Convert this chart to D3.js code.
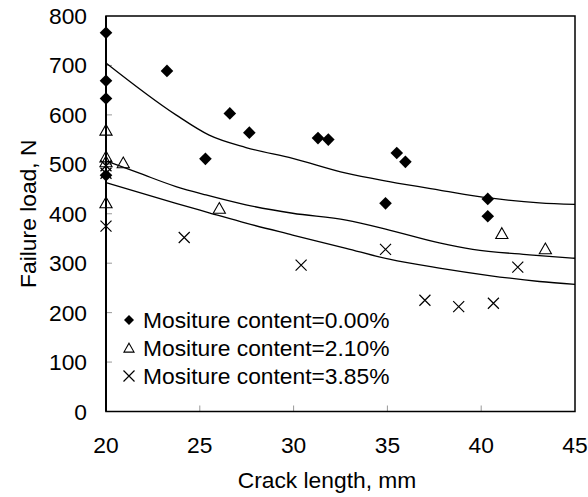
<!DOCTYPE html>
<html>
<head>
<meta charset="utf-8">
<script src="https://cdn.jsdelivr.net/npm/d3@7"></script>
<style>
  html, body { margin: 0; padding: 0; background: #fff; }
  svg { display: block; font-family: "Liberation Sans", Arial, sans-serif; }
</style>
</head>
<body>
<svg id="chart" width="588" height="497"></svg>
<script>
// ---- data ----
const xTicks = [20, 25, 30, 35, 40, 45];
const yTicks = [0, 100, 200, 300, 400, 500, 600, 700, 800];
const seriesNames = ["Mositure content=0.00%", "Mositure content=2.10%", "Mositure content=3.85%"];

// Moisture content 0.00% (filled diamonds)
const mc000X = [20, 20, 20, 20, 23.25, 25.3, 26.6, 27.64, 31.3, 31.85, 34.9, 35.5, 35.96, 40.35, 40.35];
const mc000Y = [766, 669, 633, 478, 689, 511, 603, 564, 553, 550, 421, 523, 505, 430, 395];

// Moisture content 2.10% (open triangles)
const mc210X = [20, 20, 20, 20, 20.92, 26.04, 41.1, 43.42];
const mc210Y = [569, 515, 505, 422, 503, 411, 360, 329];

// Moisture content 3.85% (crosses)
const mc385X = [20, 20, 20, 24.17, 30.4, 34.9, 37.0, 38.8, 40.65, 41.95];
const mc385Y = [375, 497, 482, 352, 296, 328, 225, 212, 219, 292];

// Model curves
const fit000X = [20, 23.73, 25.5, 27.46, 29.95, 32.8, 35.1, 37.77, 40.43, 43.1, 45];
const fit000Y = [705, 600, 559, 534, 512, 482, 465, 448, 432, 422, 419];
const fit210X = [20, 21.78, 23.73, 25.33, 27.46, 29.95, 32.8, 35.1, 37.77, 39.55, 42.57, 45];
const fit210Y = [507, 482, 455, 438, 418, 401, 387, 367, 341, 328, 317, 310];
const fit385X = [20, 23.73, 25.5, 27.46, 29.95, 32.8, 35.1, 37.77, 40.43, 43.1, 45];
const fit385Y = [463, 421, 402, 381, 357, 330, 308, 290, 275, 263, 257];

// ---- layout ----
const svg = d3.select("#chart");
const mLeft = 106, mRight = 575, mTop = 16, mBottom = 411.5;
const x = d3.scaleLinear().domain([20, 45]).range([mLeft, mRight]);
const y = d3.scaleLinear().domain([0, 800]).range([mBottom, mTop]);
const fontSize = 22.8;

// ticks (inside, grey)
const g = svg.append("g");
g.selectAll("line.yt").data(yTicks.filter(d => d > 0 && d < 800)).enter()
  .append("line").attr("x1", mLeft).attr("x2", mLeft + 6)
  .attr("y1", d => y(d)).attr("y2", d => y(d))
  .attr("stroke", "#999").attr("stroke-width", 1);
g.selectAll("line.xt").data(xTicks.filter(d => d > 20 && d < 45)).enter()
  .append("line").attr("x1", d => x(d)).attr("x2", d => x(d))
  .attr("y1", mBottom).attr("y2", mBottom - 6)
  .attr("stroke", "#999").attr("stroke-width", 1);

// tick labels
g.selectAll("text.yl").data(yTicks).enter().append("text")
  .attr("x", mLeft - 19).attr("y", d => y(d) + 8)
  .attr("text-anchor", "end").attr("font-size", fontSize).attr("fill", "#000")
  .text(d => d);
g.selectAll("text.xl").data(xTicks).enter().append("text")
  .attr("x", d => x(d)).attr("y", 453)
  .attr("text-anchor", "middle").attr("font-size", fontSize).attr("fill", "#000")
  .text(d => d);

// axis titles
svg.append("text").attr("x", 327).attr("y", 488)
  .attr("text-anchor", "middle").attr("font-size", fontSize).text("Crack length, mm");
svg.append("text").attr("transform", `translate(36,${(mTop + mBottom) / 2}) rotate(-90)`)
  .attr("text-anchor", "middle").attr("font-size", fontSize).text("Failure load, N");

// curves
const line = d3.line().x(d => x(d[0])).y(d => y(d[1])).curve(d3.curveMonotoneX);
[[fit000X, fit000Y], [fit210X, fit210Y], [fit385X, fit385Y]].forEach(([xs, ys]) => {
  svg.append("path").datum(xs.map((v, i) => [v, ys[i]]))
    .attr("d", line).attr("fill", "none").attr("stroke", "#000").attr("stroke-width", 1.3);
});

// markers
const diamond = s => `M0,${-s}L${s},0L0,${s}L${-s},0Z`;
const tri = s => `M0,${-s}L${s * 1.05},${s * 0.85}L${-s * 1.05},${s * 0.85}Z`;
const cross = s => `M${-s},${-s}L${s},${s}M${-s},${s}L${s},${-s}`;

function drawDiamonds(sel, xs, ys) {
  sel.selectAll(null).data(xs.map((v, i) => [v, ys[i]])).enter().append("path")
    .attr("transform", d => `translate(${x(d[0])},${y(d[1])})`)
    .attr("d", diamond(6.3)).attr("fill", "#000");
}
function drawTriangles(sel, xs, ys) {
  sel.selectAll(null).data(xs.map((v, i) => [v, ys[i]])).enter().append("path")
    .attr("transform", d => `translate(${x(d[0])},${y(d[1])})`)
    .attr("d", tri(5.8)).attr("fill", "none").attr("stroke", "#000").attr("stroke-width", 1.1);
}
function drawCrosses(sel, xs, ys) {
  sel.selectAll(null).data(xs.map((v, i) => [v, ys[i]])).enter().append("path")
    .attr("transform", d => `translate(${x(d[0])},${y(d[1])})`)
    .attr("d", cross(5.5)).attr("fill", "none").attr("stroke", "#000").attr("stroke-width", 1.2);
}
drawCrosses(svg.append("g"), mc385X, mc385Y);
drawTriangles(svg.append("g"), mc210X, mc210Y);
drawDiamonds(svg.append("g"), mc000X, mc000Y);

// frame
svg.append("rect").attr("x", mLeft).attr("y", mTop).attr("width", mRight - mLeft).attr("height", mBottom - mTop)
  .attr("fill", "none").attr("stroke", "#000").attr("stroke-width", 1.5);
svg.append("line").attr("x1", mLeft).attr("x2", mLeft).attr("y1", mTop).attr("y2", mBottom)
  .attr("stroke", "#000").attr("stroke-width", 2);

// legend
const legY = [320, 348, 376];
const lg = svg.append("g");
lg.append("path").attr("transform", `translate(129,${legY[0]})`).attr("d", diamond(5)).attr("fill", "#000");
lg.append("path").attr("transform", `translate(129,${legY[1]})`).attr("d", tri(4.8))
  .attr("fill", "none").attr("stroke", "#000").attr("stroke-width", 1.1);
lg.append("path").attr("transform", `translate(129,${legY[2]})`).attr("d", cross(5.5))
  .attr("fill", "none").attr("stroke", "#000").attr("stroke-width", 1.2);
lg.selectAll("text").data(seriesNames).enter().append("text")
  .attr("x", 143).attr("y", (d, i) => legY[i] + 8)
  .attr("font-size", fontSize).attr("fill", "#000").text(d => d);
</script>
</body>
</html>
